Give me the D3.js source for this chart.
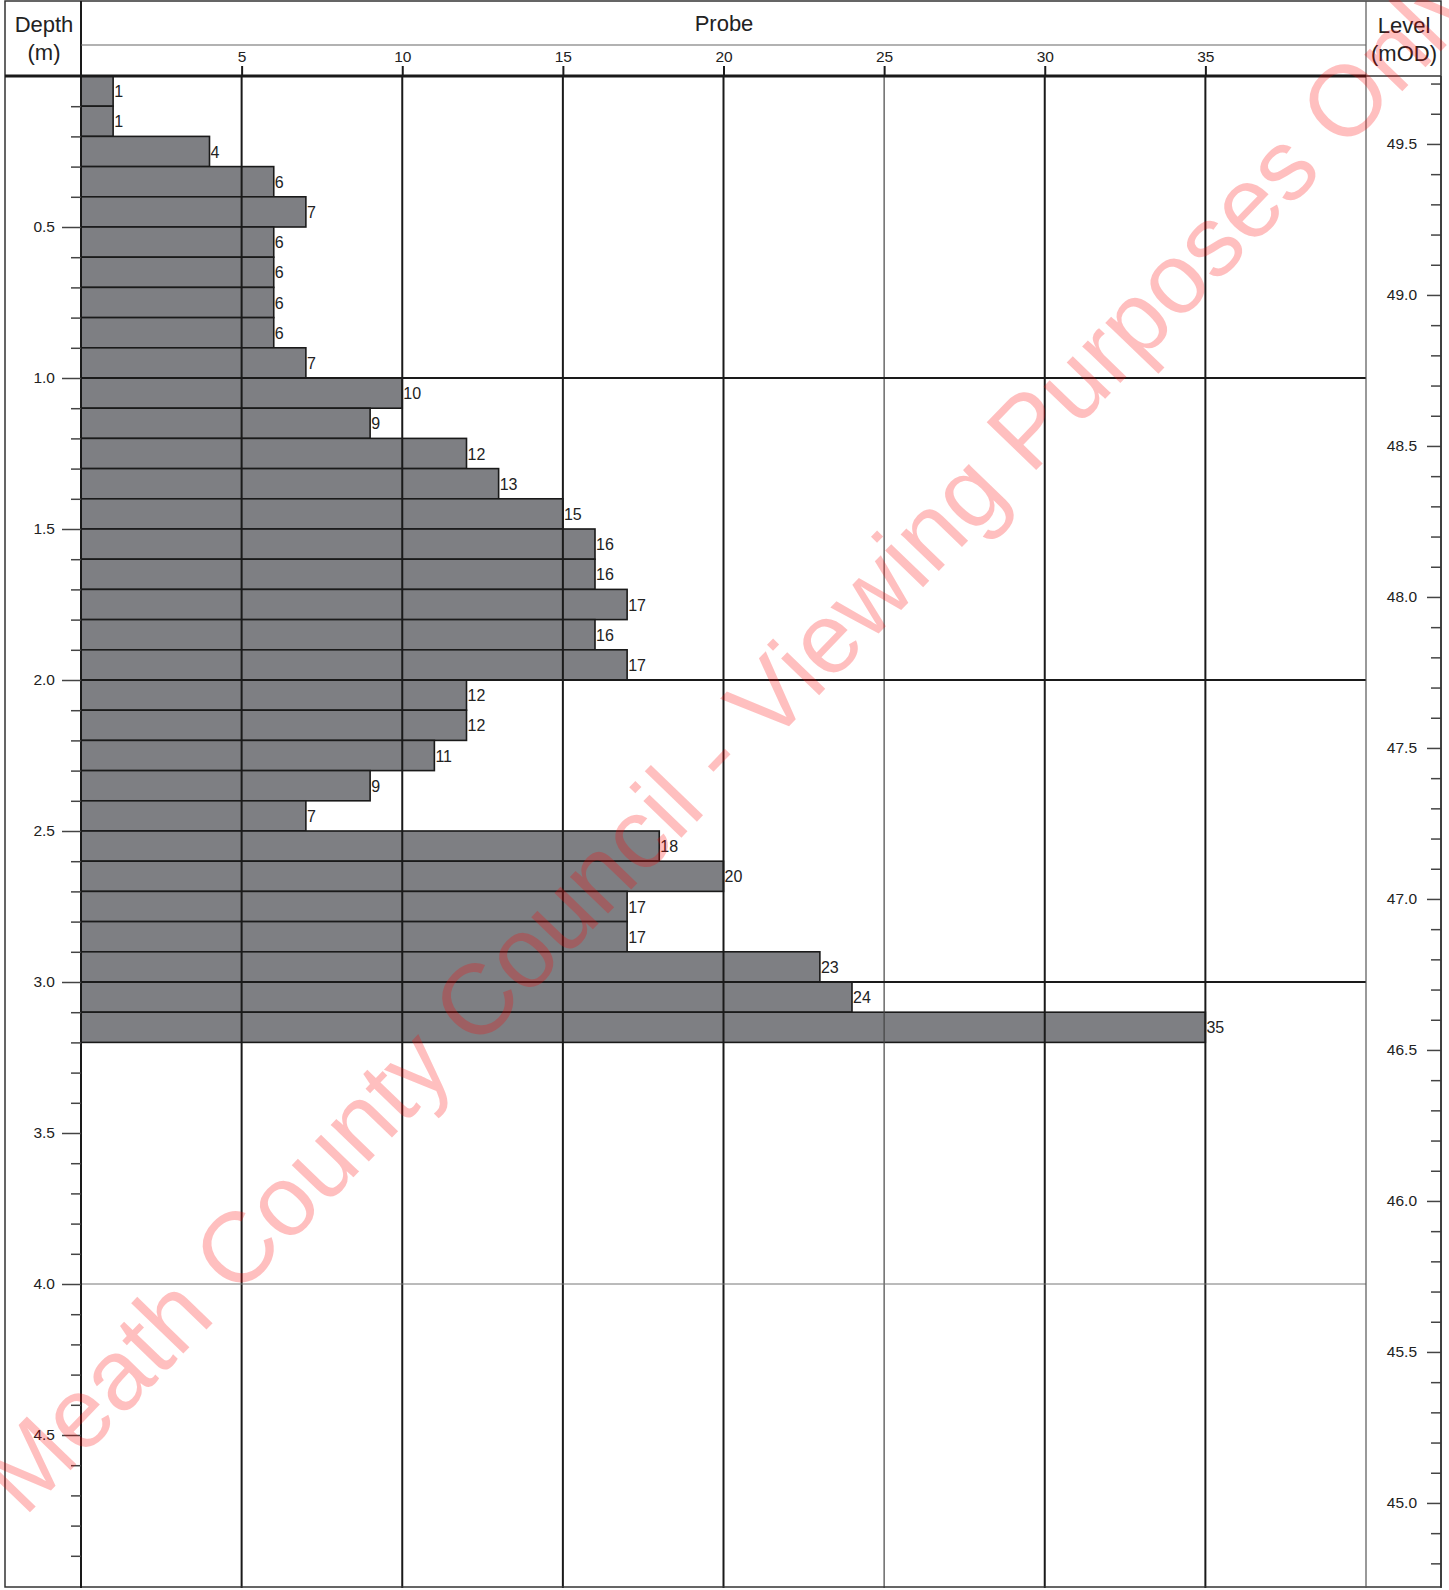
<!DOCTYPE html>
<html><head><meta charset="utf-8">
<script src="https://cdn.jsdelivr.net/npm/d3@7"></script>
<style>body{margin:0;background:#fff}svg{display:block;font-family:"Liberation Sans",Arial,sans-serif}</style>
</head><body>
<script>
const depthTop = [0,0.1,0.2,0.3,0.4,0.5,0.6,0.7,0.8,0.9,1.0,1.1,1.2,1.3,1.4,1.5,1.6,1.7,1.8,1.9,2.0,2.1,2.2,2.3,2.4,2.5,2.6,2.7,2.8,2.9,3.0,3.1];
const blows = [1,1,4,6,7,6,6,6,6,7,10,9,12,13,15,16,16,17,16,17,12,12,11,9,7,18,20,17,17,23,24,35];
const probeTicks = [5,10,15,20,25,30,35];
const depthLabels = [0.5,1.0,1.5,2.0,2.5,3.0,3.5,4.0,4.5];
const levelLabels = [49.5,49.0,48.5,48.0,47.5,47.0,46.5,46.0,45.5,45.0];
const groundLevel = 49.725;
const gridDepths = [1,2,3,4];
const interval = 0.1;

const W=1449,H=1590;
const FF="Liberation Sans, Arial, sans-serif";
const svg=d3.select("body").append("svg").attr("width",W).attr("height",H);
const x=d3.scaleLinear().domain([0,40]).range([81,1366]);
const y=d3.scaleLinear().domain([0,5]).range([76,1586]);
const yL=d3.scaleLinear().domain([groundLevel,groundLevel-5]).range([76,1586]);

// bars
svg.append("g").selectAll("rect").data(blows).join("rect")
  .attr("x",x(0)).attr("y",(d,i)=>y(depthTop[i]))
  .attr("width",d=>x(d)-x(0)).attr("height",y(interval)-y(0))
  .attr("fill","#7e7f83").attr("stroke","#1a1a1a").attr("stroke-width",1.6);

// grid
svg.append("g").selectAll("line").data(probeTicks).join("line")
  .attr("x1",d=>x(d)).attr("x2",d=>x(d)).attr("y1",76).attr("y2",1588)
  .attr("stroke",d=>d===25?"#444":"#1a1a1a").attr("stroke-width",d=>d===25?1.2:2);
svg.append("g").selectAll("line").data(gridDepths).join("line")
  .attr("x1",x(0)).attr("x2",1366).attr("y1",d=>y(d)).attr("y2",d=>y(d))
  .attr("stroke",d=>d===4?"#777":"#1a1a1a").attr("stroke-width",d=>d===4?1:2);

// bar labels
svg.append("g").selectAll("text").data(blows).join("text")
  .attr("x",d=>x(d)+1).attr("y",(d,i)=>y(depthTop[i]+interval/2)+6)
  .attr("font-size",16).attr("fill","#222").text(d=>d);

// frame
const frame=svg.append("g").attr("fill","none");
frame.append("rect").attr("x",5).attr("y",1).attr("width",1436).attr("height",1586).attr("stroke","#333").attr("stroke-width",1.5);
frame.append("line").attr("x1",81).attr("x2",81).attr("y1",1).attr("y2",1588).attr("stroke","#1a1a1a").attr("stroke-width",2);
frame.append("line").attr("x1",1366).attr("x2",1366).attr("y1",1).attr("y2",1588).attr("stroke","#555").attr("stroke-width",1.2);
frame.append("line").attr("x1",81).attr("x2",1366).attr("y1",45).attr("y2",45).attr("stroke","#666").attr("stroke-width",1.2);
frame.append("line").attr("x1",5).attr("x2",1366).attr("y1",76).attr("y2",76).attr("stroke","#1a1a1a").attr("stroke-width",3);
frame.append("line").attr("x1",1366).attr("x2",1441).attr("y1",76).attr("y2",76).attr("stroke","#333").attr("stroke-width",1.5);

// top axis
const ax=svg.append("g").attr("transform","translate(0,76)")
  .call(d3.axisTop(x).tickValues(probeTicks).tickSize(10).tickPadding(4).tickFormat(d3.format("d")));
ax.select(".domain").remove();
ax.selectAll(".tick line").attr("stroke","#1a1a1a").attr("stroke-width",2);
ax.selectAll("text").attr("font-size",15.5).attr("fill","#222").attr("font-family",FF);

// left depth axis
const minorD=d3.range(1,50).map(i=>i/10).filter(v=>Math.abs(v*2-Math.round(v*2))>1e-6);
const axm=svg.append("g").attr("transform","translate(81,0)")
  .call(d3.axisLeft(y).tickValues(minorD).tickSize(10).tickFormat(""));
axm.select(".domain").remove();
axm.selectAll(".tick line").attr("stroke","#444").attr("stroke-width",1.5);
const axd=svg.append("g").attr("transform","translate(81,0)")
  .call(d3.axisLeft(y).tickValues(depthLabels).tickSize(19).tickPadding(7).tickFormat(d3.format(".1f")));
axd.select(".domain").remove();
axd.selectAll(".tick line").attr("stroke","#444").attr("stroke-width",1.5);
axd.selectAll("text").attr("font-size",15.5).attr("fill","#222").attr("font-family",FF);

// right level axis
const minorL=d3.range(448,498).map(i=>i/10).filter(v=>Math.abs(v*2-Math.round(v*2))>1e-6);
const alm=svg.append("g").attr("transform","translate(1441,0)")
  .call(d3.axisLeft(yL).tickValues(minorL).tickSize(10).tickFormat(""));
alm.select(".domain").remove();
alm.selectAll(".tick line").attr("stroke","#444").attr("stroke-width",1.5);
const al=svg.append("g").attr("transform","translate(1441,0)")
  .call(d3.axisLeft(yL).tickValues(levelLabels).tickSize(14).tickPadding(10).tickFormat(d3.format(".1f")));
al.select(".domain").remove();
al.selectAll(".tick line").attr("stroke","#444").attr("stroke-width",1.5);
al.selectAll("text").attr("font-size",15.5).attr("fill","#222").attr("font-family",FF);
svg.append("line").attr("x1",1441).attr("x2",1441).attr("y1",76).attr("y2",1588).attr("stroke","#333").attr("stroke-width",1.5);

// headers
const hd=svg.append("g").attr("font-size",22).attr("fill","#222").attr("text-anchor","middle");
hd.append("text").attr("x",44).attr("y",32).text("Depth");
hd.append("text").attr("x",44).attr("y",60).text("(m)");
hd.append("text").attr("x",724).attr("y",31).text("Probe");
hd.append("text").attr("x",1404).attr("y",33).text("Level");
hd.append("text").attr("x",1404).attr("y",61).text("(mOD)");

// watermark
svg.append("text").attr("transform","translate(730,737) rotate(-46)")
  .attr("text-anchor","middle").attr("dominant-baseline","central")
  .attr("font-size",100).attr("fill","red").attr("fill-opacity",0.25)
  .text("Meath County Council - Viewing Purposes Only");
</script>
</body></html>
